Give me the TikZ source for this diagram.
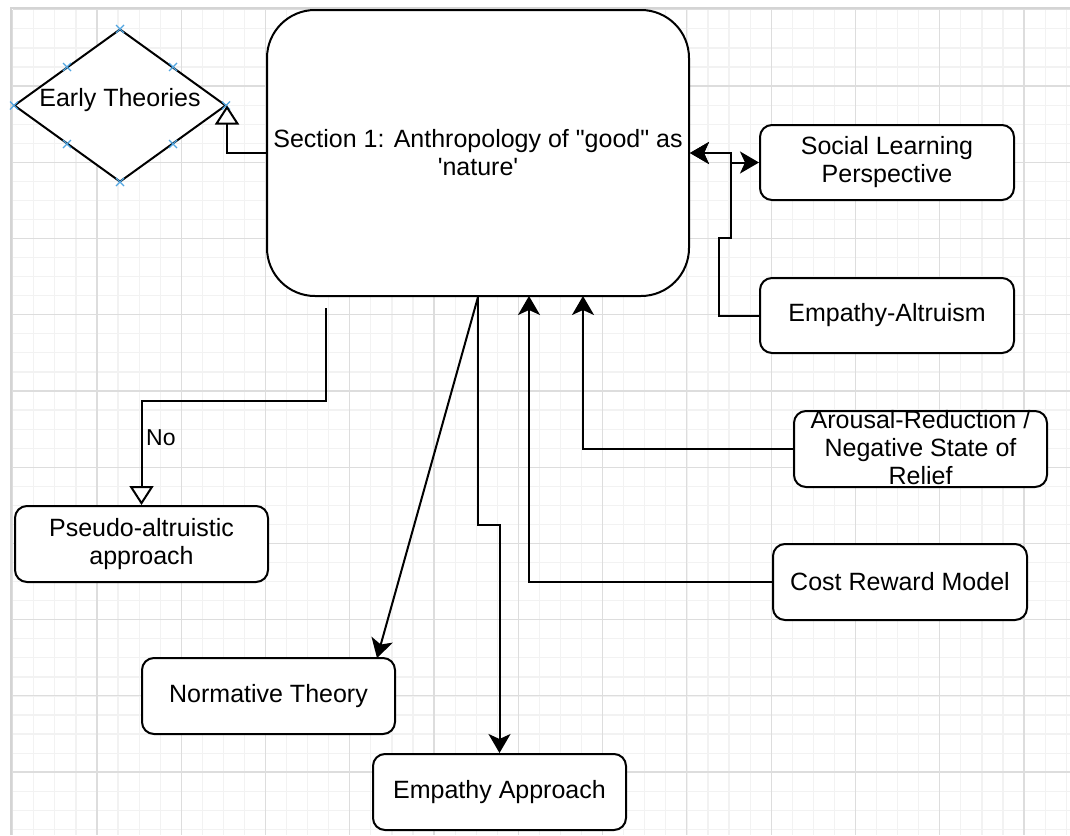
\documentclass[tikz,border=0pt]{standalone}
\usepackage{fontspec}
\setmainfont{Liberation Sans}
\usetikzlibrary{arrows.meta,shapes.geometric}
\definecolor{gridminor}{RGB}{242,242,242}
\definecolor{gridmajor}{RGB}{221,221,221}
\definecolor{gridborder}{RGB}{212,212,212}
\definecolor{markblue}{RGB}{80,165,225}
\begin{document}
\begin{tikzpicture}[x=1pt,y=-1pt,
  lbl/.style={font=\fontsize{25}{28}\selectfont, text=black},
  box/.style={draw, line width=2pt, rounded corners=12pt, fill=white, align=center, inner sep=0pt, lbl},
  conn/.style={line width=2pt},
  arr/.style={conn, -{Stealth[length=19pt,width=22pt,inset=5pt]}},
  biarr/.style={conn, {Stealth[length=19pt,width=22pt,inset=5pt]}-{Stealth[length=19pt,width=22pt,inset=5pt]}},
  openarr/.style={conn, -{Triangle[length=19pt,width=24pt,fill=white]}},
  bluex/.style={draw=markblue, line width=1.2pt}]
% canvas
\fill[white] (0,0) rectangle (1070,835);
\useasboundingbox (0,0) rectangle (1070,835);
% grid
\foreach \i in {0,...,50} {\draw[gridminor, line width=1.2pt] ({12.7+21.07*\i},9.8) -- ({12.7+21.07*\i},835);}
\foreach \j in {0,...,43} {\draw[gridminor, line width=1.2pt] (12.7,{9.8+19.06*\j}) -- (1070,{9.8+19.06*\j});}
\foreach \i in {0,...,12} {\draw[gridmajor, line width=1.2pt] ({12.7+84.27*\i},9.8) -- ({12.7+84.27*\i},835);}
\foreach \j in {0,...,10} {\draw[gridmajor, line width=1.2pt] (12.7,{9.8+76.22*\j}) -- (1070,{9.8+76.22*\j});}
\draw[gridborder, line width=2.5pt] (11,835) -- (11,8) -- (1070,8);

% nodes
\node[box, rounded corners=48pt, minimum width=422pt, minimum height=286pt] (main) at (478,153)
  {Section 1: Anthropology of \textquotedbl good\textquotedbl\ as\\{\textquotesingle}nature{\textquotesingle}};
\node[diamond, draw, line width=2pt, fill=white, inner sep=0pt, minimum width=212pt, minimum height=153pt,
  label={[lbl, yshift=5pt]center:Early Theories}] (early) at (120,105.5) {};
\node[box, minimum width=254pt, minimum height=75pt] (social) at (887,162.5) {Social Learning\\Perspective};
\node[box, minimum width=254pt, minimum height=75pt] (empalt) at (887,315.5) {Empathy-Altruism};
\node[box, minimum width=253pt, minimum height=76pt,
  label={[lbl, align=center, yshift=1pt]center:{Arousal-Reduction /\\Negative State of\\Relief}}] (arousal) at (920.5,449) {};
\node[box, minimum width=254pt, minimum height=76pt] (cost) at (900,582) {Cost Reward Model};
\node[box, minimum width=253pt, minimum height=76pt] (pseudo) at (141.5,544) {Pseudo-altruistic\\approach};
\node[box, minimum width=253pt, minimum height=76pt] (norm) at (268.5,696) {Normative Theory};
\node[box, minimum width=253pt, minimum height=76pt] (empapp) at (499.5,792) {Empathy Approach};

% blue markers on diamond
\foreach \x/\y in {14/105.5, 120/29, 226/105.5, 120/182, 67/67, 173/67, 67/144, 173/144}
  {\draw[bluex] (\x-4,\y-4) -- (\x+4,\y+4) (\x-4,\y+4) -- (\x+4,\y-4);}

% junction coordinates
\coordinate (jr) at (731,153);
\coordinate (jea) at (719,238);
\coordinate (jar) at (583,296);
\coordinate (jco) at (529,296);
\coordinate (jno) at (326,308);
\coordinate (jno2) at (326,401);
\coordinate (jnt) at (377,658);
\coordinate (jap) at (478,525);

% connectors
\draw[openarr] (main.west) -| (early.east);
\draw[biarr] (main.east) -- (jr) |- (social.west);
\draw[arr] (empalt.west) -| (jea) -| (jr) -- (main.east);
\draw[arr] (arousal.west) -| (jar);
\draw[arr] (cost.west) -| (jco);
\draw[openarr] (jno) -- (jno2) -| (pseudo.north);
\node[lbl, font=\fontsize{23}{26}\selectfont, anchor=west, inner sep=0pt] (nolbl) at (146,438) {No};
\draw[arr] (main.south) -- (jnt);
\draw[arr] (main.south) -- (jap) -| (empapp.north);
\end{tikzpicture}
\end{document}
